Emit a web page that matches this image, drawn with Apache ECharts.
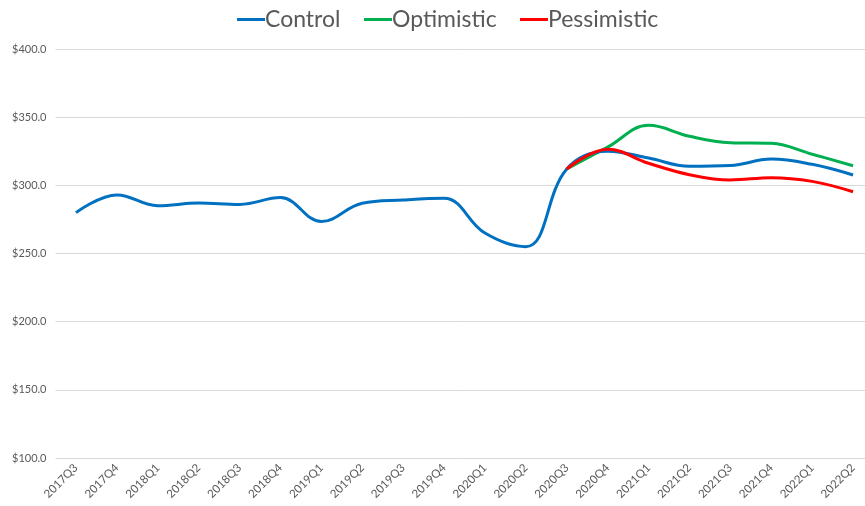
<!DOCTYPE html>
<html><head><meta charset="utf-8">
<script src="https://cdn.jsdelivr.net/npm/echarts@6/dist/echarts.min.js"></script>
<style>html,body{margin:0;padding:0;background:#fff;}#c{width:865px;height:506px;}</style>
</head><body><div id="c"></div>
<script>
const categories = ['2017Q3','2017Q4','2018Q1','2018Q2','2018Q3','2018Q4','2019Q1','2019Q2','2019Q3','2019Q4','2020Q1','2020Q2','2020Q3','2020Q4','2021Q1','2021Q2','2021Q3','2021Q4','2022Q1','2022Q2'];
const control =     [280, 293, 285, 287, 286, 291, 273.5, 286.8, 289.2, 290.5, 265, 255, 312, 325, 320, 314, 314.5, 319.3, 315.4, 307.6];
const optimistic =  [null,null,null,null,null,null,null,null,null,null,null,null, 312, 328, 344, 336, 331.3, 330.8, 322.8, 314.4];
const pessimistic = [null,null,null,null,null,null,null,null,null,null,null,null, 312, 326.4, 316.2, 307.8, 303.9, 305.6, 302.9, 295.3];
const seriesNames = ['Control','Optimistic','Pessimistic'];
const colors = ['#0070C0','#00B050','#FF0000'];
const legendLefts = [237, 364, 520];

const chart = echarts.init(document.getElementById('c'));
const fontFam = 'Lato, "Open Sans", sans-serif';
chart.setOption({
  animation: false,
  textStyle: {fontFamily: fontFam},
  legend: seriesNames.map((n, i) => ({
    top: 8, left: legendLefts[i], padding: 0,
    itemWidth: 28, itemHeight: 3,
    icon: 'rect',
    textStyle: {fontSize: 23, color: '#595959', fontFamily: fontFam, padding: [0,0,0,-5]},
    data: [n]
  })),
  grid: {left: 55.5, right: -8.5, top: 49, bottom: 48, containLabel: false, outerBoundsMode: 'none'},
  xAxis: {
    type: 'category', data: categories, boundaryGap: true,
    axisLine: {show: false}, axisTick: {show: false},
    axisLabel: {rotate: 45, fontSize: 11.5, color: '#595959', margin: 8, interval: 0}
  },
  yAxis: {
    type: 'value', min: 100, max: 400, interval: 50,
    axisLine: {show: false}, axisTick: {show: false},
    axisLabel: {formatter: v => '$' + v.toFixed(1), fontSize: 11, color: '#595959', margin: 9},
    splitLine: {lineStyle: {color: '#D9D9D9', width: 1}}
  },
  series: [
    {name: seriesNames[0], type: 'line', data: control, smooth: 0.4, symbol: 'none', lineStyle: {width: 3, color: colors[0]}, itemStyle: {color: colors[0]}, z: 3},
    {name: seriesNames[1], type: 'line', data: optimistic, smooth: 0.4, symbol: 'none', lineStyle: {width: 3, color: colors[1]}, itemStyle: {color: colors[1]}, z: 2},
    {name: seriesNames[2], type: 'line', data: pessimistic, smooth: 0.4, symbol: 'none', lineStyle: {width: 3, color: colors[2]}, itemStyle: {color: colors[2]}, z: 4}
  ]
});
</script></body></html>
